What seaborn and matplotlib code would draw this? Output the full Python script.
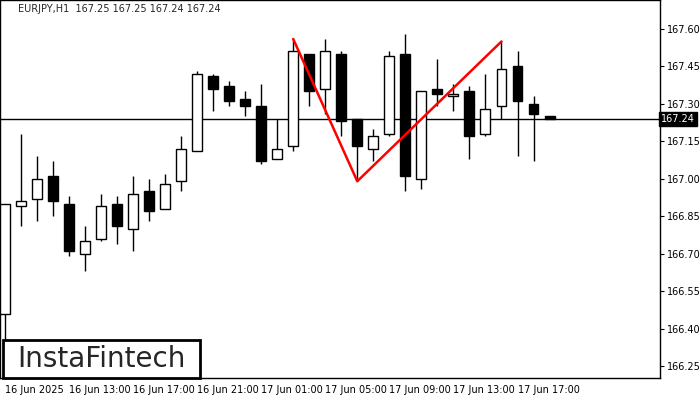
import matplotlib
matplotlib.use("Agg")
import matplotlib.pyplot as plt
import matplotlib.patches as mpatches
import seaborn as sns
import pandas as pd

opens  = [166.46,166.89,166.92,167.01,166.90,166.70,166.76,166.90,166.80,166.95,166.88,166.99,167.11,167.41,167.37,167.32,167.29,167.08,167.13,167.50,167.36,167.50,167.24,167.12,167.18,167.50,167.00,167.36,167.33,167.35,167.18,167.29,167.45,167.30,167.25]
highs  = [166.90,167.18,167.09,167.07,166.93,166.81,166.94,166.93,167.01,167.00,167.02,167.17,167.43,167.42,167.39,167.35,167.38,167.24,167.56,167.50,167.56,167.51,167.24,167.20,167.51,167.58,167.35,167.48,167.38,167.37,167.42,167.55,167.51,167.33,167.25]
lows   = [166.28,166.81,166.83,166.85,166.69,166.63,166.75,166.74,166.71,166.83,166.88,166.95,167.11,167.27,167.29,167.25,167.06,167.08,167.11,167.29,167.26,167.17,166.99,167.07,167.17,166.95,166.96,167.29,167.27,167.08,167.17,167.24,167.09,167.07,167.24]
closes = [166.90,166.91,167.00,166.91,166.71,166.75,166.89,166.81,166.94,166.87,166.98,167.12,167.42,167.36,167.31,167.29,167.07,167.12,167.51,167.35,167.51,167.23,167.13,167.17,167.49,167.01,167.35,167.34,167.34,167.17,167.28,167.44,167.31,167.26,167.24]
pattern_idx = [18, 22, 31]
pattern_price = [167.56, 166.99, 167.55]
last_price = 167.24
tick_idx = [0, 4, 8, 12, 16, 20, 24, 28, 32]
tick_labels = ["16 Jun 2025", "16 Jun 13:00", "16 Jun 17:00", "16 Jun 21:00", "17 Jun 01:00",
               "17 Jun 05:00", "17 Jun 09:00", "17 Jun 13:00", "17 Jun 17:00"]
price_ticks = [167.60, 167.45, 167.30, 167.15, 167.00, 166.85, 166.70, 166.55, 166.40, 166.25]

sns.set_style("white")
plt.rcParams['font.family'] = ['DejaVu Sans']

fig = plt.figure(figsize=(7, 4), dpi=100)
ax = fig.add_axes([0.0, 0.055, 0.943, 0.945])

w = 0.62
for i, (o, h, l, c) in enumerate(zip(opens, highs, lows, closes)):
    ax.vlines(i, l, h, color="black", lw=1, zorder=2)
    bot, top = min(o, c), max(o, c)
    fc = "white" if c >= o else "black"
    ax.bar(i, max(top - bot, 0.004), bottom=bot, width=w, facecolor=fc,
           edgecolor="black", lw=1, zorder=3)

df = pd.DataFrame({"x": pattern_idx, "y": pattern_price})
sns.lineplot(data=df, x="x", y="y", color="red", lw=1.8, ax=ax, zorder=4)

ax.axhline(last_price, color="black", lw=1, zorder=1)

ax.set_xlim(-0.3, 40.9)
ax.set_ylim(166.202, 167.716)
ax.yaxis.tick_right()
ax.set_yticks(price_ticks)
ax.set_yticklabels([f"{p:.2f}" for p in price_ticks], fontsize=7)
ax.set_xticks(tick_idx)
ax.set_xticklabels(tick_labels, fontsize=7, ha="left")
ax.tick_params(axis="both", length=3, direction="out", pad=2, colors="black")
ax.set_xlabel("")
ax.set_ylabel("")
for s in ax.spines.values():
    s.set_color("black")
    s.set_linewidth(1)

ax.text(1.002, last_price, f"{last_price:.2f}", transform=ax.get_yaxis_transform(),
        fontsize=7, color="white", va="center", ha="left",
        bbox=dict(boxstyle="square,pad=0.2", fc="black", ec="black"))

ax.text(18/660, 0.975, "EURJPY,H1  167.25 167.25 167.24 167.24", transform=ax.transAxes,
        fontsize=7, va="center", ha="left")

fig.patches.append(mpatches.Rectangle((3/700, 22/400), 197/700, 38/400, transform=fig.transFigure,
                                      fc="white", ec="black", lw=2, zorder=10))
fig.text(101/700, 1 - 359/400, "InstaFintech", fontsize=20, va="center", ha="center", zorder=11)

fig.savefig("out.png", dpi=100)
